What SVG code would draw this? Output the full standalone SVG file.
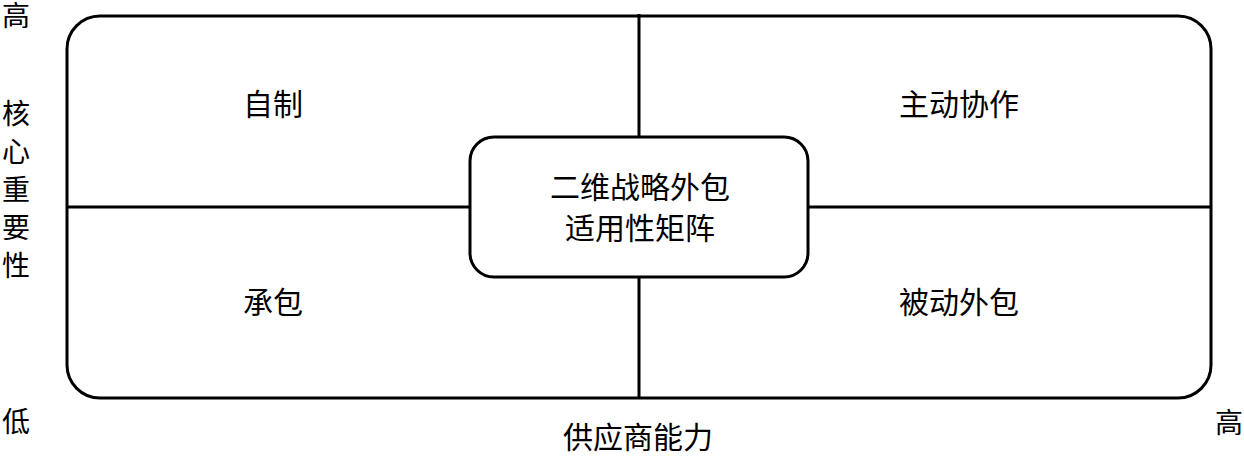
<svg xmlns="http://www.w3.org/2000/svg" width="1244" height="474" viewBox="0 0 1244 474">
<style>
.ln{stroke:#000;stroke-width:3;fill:none}
.box{stroke:#000;stroke-width:3;fill:#fff}
.t{font-family:"Liberation Serif","Noto Sans CJK SC",serif;font-size:30px;fill:#000;text-anchor:middle;dominant-baseline:central}
</style>
<rect width="1244" height="474" fill="#fff"/>
<g id="frame"><rect class="ln" x="67" y="16" width="1144" height="382" rx="33" ry="33"/></g>
<g id="connectors">
<line class="ln" x1="639" y1="14" x2="639" y2="137"/>
<line class="ln" x1="639" y1="277" x2="639" y2="398"/>
<line class="ln" x1="67" y1="207" x2="470" y2="207"/>
<line class="ln" x1="808" y1="207" x2="1211" y2="207"/>
</g>
<g id="center"><rect class="box" x="470" y="137" width="338" height="140" rx="24" ry="24"/>
<text class="t" x="640" y="187">二维战略外包</text>
<text class="t" x="640" y="228">适用性矩阵</text></g>
<g id="q1"><text class="t" x="273" y="104">自制</text></g>
<g id="q2"><text class="t" x="959" y="104">主动协作</text></g>
<g id="q3"><text class="t" x="273" y="302">承包</text></g>
<g id="q4"><text class="t" x="959" y="302">被动外包</text></g>
<g id="yaxis">
<text class="t" x="16" y="16" style="font-size:28px">高</text>
<text class="t" x="16" y="114" style="font-size:28px">核</text>
<text class="t" x="16" y="152" style="font-size:28px">心</text>
<text class="t" x="16" y="190" style="font-size:28px">重</text>
<text class="t" x="16" y="228" style="font-size:28px">要</text>
<text class="t" x="16" y="266" style="font-size:28px">性</text>
<text class="t" x="16" y="422" style="font-size:28px">低</text>
</g>
<g id="xaxis">
<text class="t" x="638" y="437">供应商能力</text>
<text class="t" x="1229" y="423" style="font-size:28px">高</text>
</g>
</svg>
